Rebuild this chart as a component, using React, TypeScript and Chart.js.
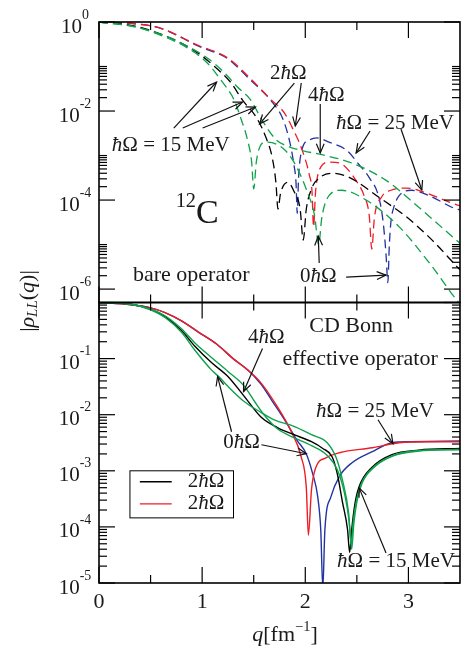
import React, { useEffect, useRef } from 'react';
import { Chart, registerables } from 'chart.js';
Chart.register(...registerables);

// ---------------- data ----------------
const xMajorTicks = [0, 1, 2, 3];
const xMinorTicks = [0.5, 1.5, 2.5];
const xTickLabels = ['0', '1', '2', '3'];
const topTickValues = [1, 1e-2, 1e-4, 1e-6];
const topTickLabels = ['0', '-2', '-4', '-6'];
const topMinorDecades = [1e-2, 1e-4, 1e-6];
const botTickValues = [1e-1, 1e-2, 1e-3, 1e-4, 1e-5];
const botTickLabels = ['-1', '-2', '-3', '-4', '-5'];
const botMajorValues = [1, 1e-1, 1e-2, 1e-3, 1e-4, 1e-5];
const botMinorDecades = [1e-1, 1e-2, 1e-3, 1e-4, 1e-5];

// bare operator (top panel, dashed)
const bareQRed = [0, 0.35, 0.6, 0.96, 1.25, 1.46, 1.67, 1.8, 1.87, 1.97, 2.04, 2.065, 2.08, 2.1, 2.15, 2.23, 2.33, 2.49, 2.57, 2.62, 2.645, 2.67, 2.74, 2.83, 2.98, 3.15, 3.39, 3.5];
const bareRed = [1, 0.91, 0.72, 0.3, 0.155, 0.056, 0.0178, 8.9e-3, 4.4e-3, 1.32e-3, 3.6e-4, 1.58e-4, 2.5e-5, 1.58e-4, 5.5e-4, 7.1e-4, 6.8e-4, 2.8e-4, 1.26e-4, 4.5e-5, 7.9e-6, 4.0e-5, 1.17e-4, 1.66e-4, 1.86e-4, 1.51e-4, 9.1e-5, 7.4e-5];

const bareQBlue = [0, 0.35, 0.6, 0.96, 1.25, 1.46, 1.68, 1.78, 1.85, 1.89, 1.91, 1.922, 1.935, 1.97, 2.04, 2.11, 2.23, 2.4, 2.52, 2.62, 2.72, 2.76, 2.785, 2.8, 2.815, 2.83, 2.86, 2.91, 3.03, 3.2, 3.44, 3.5];
const bareBlue = [1, 0.91, 0.72, 0.29, 0.148, 0.052, 0.0158, 6.9e-3, 2.0e-3, 6.2e-4, 2.5e-4, 5.0e-5, 3.2e-4, 1.41e-3, 2.24e-3, 2.5e-3, 2.0e-3, 1.32e-3, 6.3e-4, 3.2e-4, 1.0e-4, 2.5e-5, 5.0e-6, 1.4e-6, 1.0e-5, 3.2e-5, 7.1e-5, 1.26e-4, 1.66e-4, 1.26e-4, 6.6e-5, 6.0e-5];

const bareQBlack = [0, 0.35, 0.73, 0.96, 1.12, 1.28, 1.39, 1.53, 1.62, 1.68, 1.715, 1.735, 1.76, 1.83, 1.89, 1.95, 1.98, 2.01, 2.06, 2.14, 2.26, 2.43, 2.71, 2.98, 3.23, 3.47, 3.5];
const bareBlack = [1, 0.81, 0.4, 0.2, 0.1, 0.043, 0.0178, 6.9e-3, 2.5e-3, 8.9e-4, 2.5e-4, 6.3e-5, 1.41e-4, 2.5e-4, 1.58e-4, 6.3e-5, 1.26e-5, 6.3e-5, 1.78e-4, 3.2e-4, 4.0e-4, 3.2e-4, 1.17e-4, 4.2e-5, 1.26e-5, 3.2e-6, 2.7e-6];

const bareQGreenA = [0, 0.35, 0.64, 0.86, 1.05, 1.18, 1.31, 1.37, 1.44, 1.48, 1.5, 1.525, 1.56, 1.62, 1.78, 1.89, 2.02, 2.09, 2.13, 2.16, 2.23, 2.35, 2.59, 2.91, 3.23, 3.47, 3.5];
const bareGreenA = [1, 0.78, 0.46, 0.26, 0.12, 0.05, 0.0178, 7.4e-3, 2.24e-3, 7.1e-4, 1.78e-4, 7.1e-4, 1.58e-3, 2.0e-3, 1.48e-3, 7.1e-4, 1.51e-4, 4.5e-5, 1.0e-5, 4.0e-5, 1.26e-4, 1.66e-4, 1.0e-4, 2.5e-5, 3.2e-6, 5.6e-7, 4.7e-7];

const bareQGreenB = [0, 0.35, 0.64, 0.89, 1.05, 1.22, 1.34, 1.47, 1.58, 1.72, 1.85, 1.99, 2.14, 2.45, 2.78, 3.1, 3.44, 3.5];
const bareGreenB = [1, 0.78, 0.49, 0.26, 0.155, 0.071, 0.035, 0.0178, 6.3e-3, 2.24e-3, 1.55e-3, 1.26e-3, 1.07e-3, 6.8e-4, 2.8e-4, 6.9e-5, 1.41e-5, 1.07e-5];

// effective operator (bottom panel, solid)
const effQRed = [0, 0.31, 0.5, 0.64, 0.8, 0.96, 1.14, 1.3, 1.44, 1.57, 1.73, 1.86, 1.96, 2.01, 2.03, 2.06, 2.1, 2.2, 2.33, 2.65, 2.91, 3.17, 3.5];
const effRed = [1, 0.91, 0.8, 0.66, 0.47, 0.3, 0.182, 0.1, 0.063, 0.037, 0.0138, 5.2e-3, 1.78e-3, 5.0e-4, 7.1e-5, 4.6e-4, 1.12e-3, 1.7e-3, 2.1e-3, 2.57e-3, 3.16e-3, 3.3e-3, 3.3e-3];

const effQBlue = [0, 0.31, 0.5, 0.64, 0.8, 0.96, 1.14, 1.3, 1.44, 1.57, 1.67, 1.8, 1.92, 2.01, 2.07, 2.12, 2.15, 2.17, 2.19, 2.25, 2.33, 2.45, 2.65, 2.84, 3.03, 3.5];
const effBlue = [1, 0.91, 0.8, 0.66, 0.47, 0.3, 0.182, 0.1, 0.063, 0.035, 0.0186, 8.1e-3, 3.5e-3, 2.0e-3, 9.1e-4, 3.5e-4, 8.9e-5, 8e-6, 8.9e-5, 3.5e-4, 7.9e-4, 1.38e-3, 2.2e-3, 3.16e-3, 3.3e-3, 3.4e-3];

const effQBlack = [0, 0.31, 0.5, 0.64, 0.8, 0.93, 1.09, 1.25, 1.41, 1.57, 1.73, 1.89, 2.06, 2.17, 2.26, 2.31, 2.36, 2.41, 2.43, 2.45, 2.48, 2.52, 2.65, 2.84, 3.1, 3.5];
const effBlack = [1, 0.93, 0.76, 0.56, 0.316, 0.166, 0.085, 0.048, 0.021, 9.1e-3, 5.9e-3, 4.4e-3, 3.3e-3, 2.5e-3, 1.78e-3, 8.9e-4, 2.8e-4, 8.9e-5, 3.5e-5, 8.9e-5, 2.5e-4, 5.1e-4, 1.17e-3, 1.95e-3, 2.34e-3, 2.5e-3];

const effQGreen0 = [0, 0.31, 0.5, 0.64, 0.8, 0.93, 1.09, 1.17, 1.25, 1.41, 1.57, 1.7, 1.89, 2.06, 2.21, 2.3, 2.36, 2.42, 2.445, 2.465, 2.5, 2.55, 2.67, 2.86, 3.1, 3.5];
const effGreen0 = [1, 0.93, 0.74, 0.54, 0.295, 0.141, 0.063, 0.046, 0.032, 0.017, 0.011, 8.1e-3, 6.2e-3, 4.4e-3, 3.2e-3, 1.7e-3, 6.9e-4, 1.78e-4, 5.0e-5, 1.26e-4, 3.2e-4, 6.3e-4, 1.2e-3, 1.9e-3, 2.3e-3, 2.4e-3];

const effQGreen4 = [0, 0.31, 0.5, 0.64, 0.8, 0.93, 1.09, 1.25, 1.41, 1.51, 1.6, 1.73, 1.89, 2.06, 2.21, 2.31, 2.38, 2.425, 2.45, 2.47, 2.5, 2.55, 2.67, 2.86, 3.1, 3.5];
const effGreen4 = [1, 0.93, 0.76, 0.58, 0.34, 0.19, 0.105, 0.059, 0.032, 0.017, 0.01, 5.6e-3, 3.9e-3, 2.8e-3, 1.9e-3, 1.05e-3, 4.0e-4, 1.26e-4, 4.0e-5, 1.12e-4, 2.8e-4, 6.0e-4, 1.17e-3, 1.86e-3, 2.24e-3, 2.4e-3];

const legendLabels = ['2ħΩ', '2ħΩ'];

// ---------------- styling ----------------
const FONT = '"Liberation Serif", "DejaVu Serif", serif';
const RED = '#ee1c24';
const BLUE = '#2233a0';
const GREEN = '#0fa24c';
const BLACK = '#000000';
const TEXT = '#1a1a1a';

type Seg = { t: string; it?: boolean; sc?: number; dy?: number };
const HO15: Seg[] = [{ t: 'ħ', it: true }, { t: 'Ω = 15 MeV' }];
const HO25: Seg[] = [{ t: 'ħ', it: true }, { t: 'Ω = 25 MeV' }];
const N0: Seg[] = [{ t: '0' }, { t: 'ħ', it: true }, { t: 'Ω' }];
const N2: Seg[] = [{ t: '2' }, { t: 'ħ', it: true }, { t: 'Ω' }];
const N4: Seg[] = [{ t: '4' }, { t: 'ħ', it: true }, { t: 'Ω' }];

type Panel = 'top' | 'bot';
type Label = { p: Panel; q: number; e: number; segs: Seg[]; size: number; align?: 'left' | 'center' | 'right' };
type Arrow = { p: Panel; q1: number; e1: number; q2: number; e2: number };

const labels: Label[] = [
  { p: 'top', q: 0.696, e: -2.764, segs: HO15, size: 21 },
  { p: 'top', q: 1.836, e: -1.146, segs: N2, size: 21 },
  { p: 'top', q: 2.203, e: -1.64, segs: N4, size: 21 },
  { p: 'top', q: 2.87, e: -2.27, segs: HO25, size: 21 },
  { p: 'top', q: 2.126, e: -5.708, segs: N0, size: 21 },
  { p: 'top', q: 0.329, e: -5.685, segs: [{ t: 'bare operator' }], size: 22, align: 'left' },
  { p: 'top', q: 0.952, e: -4.315, segs: [{ t: '12', sc: 0.6, dy: -12 }, { t: 'C' }], size: 34 },
  { p: 'bot', q: 2.444, e: -0.429, segs: [{ t: 'CD Bonn' }], size: 22 },
  { p: 'bot', q: 2.531, e: -1.018, segs: [{ t: 'effective operator' }], size: 22 },
  { p: 'bot', q: 1.623, e: -0.625, segs: N4, size: 21 },
  { p: 'bot', q: 1.382, e: -2.5, segs: N0, size: 21 },
  { p: 'bot', q: 2.676, e: -1.946, segs: HO25, size: 21 },
  { p: 'bot', q: 2.879, e: -4.625, segs: HO15, size: 21 },
];

const arrows: Arrow[] = [
  { p: 'top', q1: 0.725, e1: -2.382, q2: 1.14, e2: -1.348 },
  { p: 'top', q1: 0.812, e1: -2.382, q2: 1.391, e2: -1.798 },
  { p: 'top', q1: 1.005, e1: -2.382, q2: 1.517, e2: -1.91 },
  { p: 'top', q1: 1.894, e1: -1.371, q2: 1.556, e2: -2.292 },
  { p: 'top', q1: 1.961, e1: -1.371, q2: 1.903, e2: -2.337 },
  { p: 'top', q1: 2.145, e1: -1.843, q2: 2.145, e2: -2.944 },
  { p: 'top', q1: 2.628, e1: -2.449, q2: 2.493, e2: -2.944 },
  { p: 'top', q1: 2.928, e1: -2.404, q2: 3.13, e2: -3.775 },
  { p: 'top', q1: 2.135, e1: -5.416, q2: 2.126, e2: -4.809 },
  { p: 'top', q1: 2.396, e1: -5.73, q2: 2.783, e2: -5.685 },
  { p: 'bot', q1: 1.585, e1: -0.821, q2: 1.401, e2: -1.589 },
  { p: 'bot', q1: 1.285, e1: -2.304, q2: 1.15, e2: -1.321 },
  { p: 'bot', q1: 1.575, e1: -2.536, q2: 2.01, e2: -2.696 },
  { p: 'bot', q1: 2.705, e1: -2.089, q2: 2.85, e2: -2.518 },
  { p: 'bot', q1: 2.783, e1: -4.464, q2: 2.522, e2: -3.304 },
];

function fontOf(size: number, s: Seg) {
  return `${s.it ? 'italic ' : ''}${(size * (s.sc ?? 1)).toFixed(1)}px ${FONT}`;
}

function drawRich(ctx: CanvasRenderingContext2D, segs: Seg[], x: number, y: number, size: number, align: 'left' | 'center' | 'right' = 'center') {
  const ws: number[] = [];
  let total = 0;
  for (const s of segs) {
    ctx.font = fontOf(size, s);
    const w = ctx.measureText(s.t).width;
    ws.push(w);
    total += w;
  }
  let cx = align === 'center' ? x - total / 2 : align === 'right' ? x - total : x;
  ctx.textAlign = 'left';
  ctx.textBaseline = 'middle';
  segs.forEach((s, i) => {
    ctx.font = fontOf(size, s);
    ctx.fillText(s.t, cx, y + (s.dy ?? 0));
    cx += ws[i];
  });
}

function seg(ctx: CanvasRenderingContext2D, x1: number, y1: number, x2: number, y2: number) {
  ctx.beginPath();
  ctx.moveTo(x1, y1);
  ctx.lineTo(x2, y2);
  ctx.stroke();
}

function drawArrow(ctx: CanvasRenderingContext2D, x1: number, y1: number, x2: number, y2: number) {
  seg(ctx, x1, y1, x2, y2);
  const a = Math.atan2(y2 - y1, x2 - x1);
  const L = 10, w = 0.4;
  ctx.beginPath();
  ctx.moveTo(x2 - L * Math.cos(a - w), y2 - L * Math.sin(a - w));
  ctx.lineTo(x2, y2);
  ctx.lineTo(x2 - L * Math.cos(a + w), y2 - L * Math.sin(a + w));
  ctx.stroke();
}

const decorPlugin = {
  id: 'decor',
  afterDatasetsDraw(chart: any) {
    const ctx: CanvasRenderingContext2D = chart.ctx;
    const xs = chart.scales.x;
    const yt = chart.scales.yTop;
    const yb = chart.scales.yBot;
    const L = xs.left, R = xs.right;
    const sc = (p: Panel) => (p === 'top' ? yt : yb);
    const P = (p: Panel, q: number, e: number) => ({ x: xs.getPixelForValue(q), y: sc(p).getPixelForValue(Math.pow(10, e)) });

    ctx.save();
    ctx.strokeStyle = BLACK;
    ctx.lineWidth = 1.6;
    ctx.setLineDash([]);
    ctx.strokeRect(L, yt.top, R - L, yt.bottom - yt.top);
    ctx.strokeRect(L, yb.top, R - L, yb.bottom - yb.top);

    ctx.lineWidth = 1.2;
    const yTick = (y: number, len: number) => { seg(ctx, L, y, L + len, y); seg(ctx, R, y, R - len, y); };
    topTickValues.forEach(v => yTick(yt.getPixelForValue(v), 16));
    topMinorDecades.forEach(d => { for (let k = 2; k <= 10; k++) yTick(yt.getPixelForValue(k * d), 8); });
    botMajorValues.forEach(v => yTick(yb.getPixelForValue(v), 16));
    botMinorDecades.forEach(d => { for (let k = 2; k <= 9; k++) yTick(yb.getPixelForValue(k * d), 8); });

    const xTick = (q: number, len: number) => {
      const x = xs.getPixelForValue(q);
      seg(ctx, x, yt.top, x, yt.top + len);
      seg(ctx, x, yt.bottom, x, yt.bottom - len);
      seg(ctx, x, yb.top, x, yb.top + len);
      seg(ctx, x, yb.bottom, x, yb.bottom - len);
    };
    xMajorTicks.forEach(q => xTick(q, 16));
    xMinorTicks.forEach(q => xTick(q, 8));

    ctx.fillStyle = TEXT;
    // y tick labels
    topTickValues.forEach((v, i) => {
      const y = yt.getPixelForValue(v);
      drawRich(ctx, [{ t: '10' }, { t: topTickLabels[i], sc: 0.66, dy: -12 }], 75, y + 5, 21);
    });
    botTickValues.forEach((v, i) => {
      const y = yb.getPixelForValue(v);
      drawRich(ctx, [{ t: '10' }, { t: botTickLabels[i], sc: 0.66, dy: -12 }], 75, y + 5, 21);
    });
    // x tick labels
    xMajorTicks.forEach((q, i) => {
      drawRich(ctx, [{ t: xTickLabels[i] }], xs.getPixelForValue(q), yb.bottom + 19, 22);
    });
    // axis titles
    drawRich(ctx, [{ t: 'q', it: true }, { t: '[fm' }, { t: '−1', sc: 0.66, dy: -8 }, { t: ']' }], 285, 635, 22);
    ctx.save();
    ctx.translate(28, 301);
    ctx.rotate(-Math.PI / 2);
    drawRich(ctx, [{ t: '|' }, { t: 'ρ', it: true }, { t: 'LL', it: true, sc: 0.68, dy: 5 }, { t: '(' }, { t: 'q', it: true }, { t: ')|' }], 0, 0, 22);
    ctx.restore();

    // annotations
    labels.forEach(lb => {
      const p = P(lb.p, lb.q, lb.e);
      drawRich(ctx, lb.segs, p.x, p.y, lb.size, lb.align ?? 'center');
    });
    ctx.strokeStyle = '#111';
    ctx.lineWidth = 1.2;
    arrows.forEach(a => {
      const s = P(a.p, a.q1, a.e1);
      const t = P(a.p, a.q2, a.e2);
      drawArrow(ctx, s.x, s.y, t.x, t.y);
    });

    // legend
    const b1 = P('bot', 0.3, -3.0);
    const b2 = P('bot', 1.304, -3.839);
    ctx.fillStyle = '#fff';
    ctx.fillRect(b1.x, b1.y, b2.x - b1.x, b2.y - b1.y);
    ctx.strokeStyle = BLACK;
    ctx.lineWidth = 1;
    ctx.strokeRect(b1.x, b1.y, b2.x - b1.x, b2.y - b1.y);
    const rows = [-3.196, -3.589];
    const cols = [BLACK, RED];
    rows.forEach((e, i) => {
      const a = P('bot', 0.396, e);
      const c = P('bot', 0.705, e);
      ctx.strokeStyle = cols[i];
      ctx.lineWidth = 1.4;
      seg(ctx, a.x, a.y, c.x, a.y);
      const tp = P('bot', 0.86, e);
      ctx.fillStyle = TEXT;
      const txt = legendLabels[i];
      drawRich(ctx, [{ t: txt.slice(0, 1) }, { t: 'ħ', it: true }, { t: 'Ω' }], tp.x, tp.y, 21, 'left');
    });
    ctx.restore();
  },
};

function line(label: string, qs: number[], vs: number[], color: string, yAxisID: string, dashed: boolean) {
  return {
    label,
    data: qs.map((q, i) => ({ x: q, y: vs[i] })),
    borderColor: color,
    backgroundColor: color,
    borderWidth: dashed ? 1.3 : 1.4,
    borderDash: dashed ? [9, 5] : [],
    yAxisID,
    xAxisID: 'x',
    pointRadius: 0,
    pointHoverRadius: 0,
    fill: false,
    cubicInterpolationMode: 'monotone' as const,
  };
}

export default function App() {
  const ref = useRef<HTMLCanvasElement>(null);
  useEffect(() => {
    document.body.style.margin = '0';
    const hidden = {
      ticks: { display: false },
      grid: { display: false, drawTicks: false, tickLength: 0 },
      border: { display: false },
    };
    const chart = new Chart(ref.current as HTMLCanvasElement, {
      type: 'line',
      data: {
        datasets: [
          line('bare 0ħΩ 15 MeV', bareQGreenA, bareGreenA, GREEN, 'yTop', true),
          line('bare 4ħΩ 15 MeV', bareQGreenB, bareGreenB, GREEN, 'yTop', true),
          line('bare 2ħΩ 15 MeV', bareQBlack, bareBlack, BLACK, 'yTop', true),
          line('bare 2ħΩ 25 MeV', bareQRed, bareRed, RED, 'yTop', true),
          line('bare 0ħΩ 25 MeV', bareQBlue, bareBlue, BLUE, 'yTop', true),
          line('eff 0ħΩ 15 MeV', effQGreen0, effGreen0, GREEN, 'yBot', false),
          line('eff 4ħΩ 15 MeV', effQGreen4, effGreen4, GREEN, 'yBot', false),
          line('eff 2ħΩ 15 MeV', effQBlack, effBlack, BLACK, 'yBot', false),
          line('eff 2ħΩ 25 MeV', effQRed, effRed, RED, 'yBot', false),
          line('eff 0ħΩ 25 MeV', effQBlue, effBlue, BLUE, 'yBot', false),
        ],
      },
      options: {
        animation: false,
        responsive: false,
        devicePixelRatio: 1,
        layout: { padding: { left: 99, right: 1, top: 22, bottom: 66 } },
        plugins: { legend: { display: false }, tooltip: { enabled: false } },
        events: [],
        scales: {
          x: { type: 'linear', min: 0, max: 3.5, position: 'bottom', ...hidden },
          yBot: { type: 'logarithmic', min: 1e-5, max: 1, position: 'left', stack: 'panels', stackWeight: 1, offset: false, ...hidden },
          yTop: { type: 'logarithmic', min: 5e-7, max: 1, position: 'left', stack: 'panels', stackWeight: 1, offset: false, ...hidden },
        },
      } as any,
      plugins: [decorPlugin],
    });
    return () => chart.destroy();
  }, []);
  return (
    <div style={{ position: 'fixed', left: 0, top: 0, width: 461, height: 649, background: '#fff' }}>
      <canvas ref={ref} width={461} height={649} style={{ display: 'block', width: 461, height: 649 }} />
    </div>
  );
}
